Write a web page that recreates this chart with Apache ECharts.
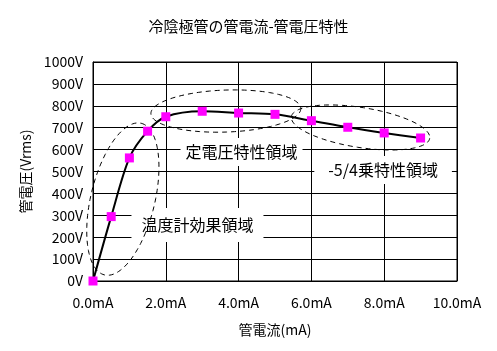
<!DOCTYPE html>
<html>
<head>
<meta charset="utf-8">
<script src="https://cdn.jsdelivr.net/npm/echarts@6/dist/echarts.min.js"></script>
<style>html,body{margin:0;padding:0;background:#fff;}#c{width:497px;height:351px;}</style>
</head>
<body>
<div id="c"></div>
<script>
var currents = [0, 0.5, 1.0, 1.5, 2.0, 3.0, 4.0, 5.0, 6.0, 7.0, 8.0, 9.0];
var voltages = [0, 294, 562, 684, 750, 775, 767, 761, 732, 702, 676, 653];
var xTicks = [0, 2, 4, 6, 8, 10];
var yTicks = [0, 100, 200, 300, 400, 500, 600, 700, 800, 900, 1000];
var titleText = '冷陰極管の管電流-管電圧特性';
var xName = '管電流(mA)';
var yName = '管電圧(Vrms)';
var regionLabels = ['温度計効果領域', '定電圧特性領域', '-5/4乗特性領域'];

var FONT = '"Noto Sans CJK JP", "Noto Sans", sans-serif';
var chart = echarts.init(document.getElementById('c'));
var pts = currents.map(function (c, i) { return [c, voltages[i]]; });

chart.setOption({
  animation: false,
  backgroundColor: '#fff',
  textStyle: { fontFamily: FONT, color: '#000' },
  title: {
    text: titleText, left: 'center', top: 14,
    textStyle: { fontFamily: FONT, fontWeight: 'normal', fontSize: 15, color: '#000' }
  },
  grid: { left: 93, right: 40, top: 62, bottom: 70, show: true, borderColor: '#000', borderWidth: 1 },
  xAxis: {
    type: 'value', min: xTicks[0], max: xTicks[xTicks.length - 1], interval: xTicks[1] - xTicks[0],
    axisLine: { lineStyle: { color: '#000', width: 1 } },
    axisTick: { show: false },
    splitLine: { show: true, lineStyle: { color: '#000', width: 1 } },
    axisLabel: { color: '#000', fontSize: 14, fontFamily: FONT, margin: 15,
      formatter: function (v) { return v.toFixed(1) + 'mA'; } },
    name: xName, nameLocation: 'middle', nameGap: 42,
    nameTextStyle: { color: '#000', fontSize: 14, fontFamily: FONT }
  },
  yAxis: {
    type: 'value', min: yTicks[0], max: yTicks[yTicks.length - 1], interval: yTicks[1] - yTicks[0],
    axisLine: { show: true, lineStyle: { color: '#000', width: 1 } },
    axisTick: { show: false },
    splitLine: { show: true, lineStyle: { color: '#000', width: 1 } },
    axisLabel: { color: '#000', fontSize: 14, fontFamily: FONT, margin: 10,
      formatter: function (v) { return v + 'V'; } },
    name: yName, nameLocation: 'middle', nameGap: 59, nameRotate: 90,
    nameTextStyle: { color: '#000', fontSize: 14, fontFamily: FONT }
  },
  series: [{
    type: 'line', data: pts, smooth: 0.3, z: 5,
    lineStyle: { color: '#000', width: 2 },
    symbol: 'rect', symbolSize: 9,
    itemStyle: { color: '#ff00ff', borderWidth: 0 }
  }]
});

// annotation ellipses: centre in data units, radii in px, rotation in degrees
var ellipses = [
  { c: [0.82, 374], a: 78, b: 32, rot: -76.4 },
  { c: [3.65, 776], a: 75, b: 21, rot: -2 },
  { c: [7.35, 701], a: 70, b: 20, rot: 8.9 }
];
var labels = [
  { t: regionLabels[0], p: [2.87, 256], pad: [9, 10] },
  { t: regionLabels[1], p: [4.08, 589], pad: [6, 5] },
  { t: regionLabels[2], p: [7.97, 507], pad: [6, 14] }
];

var elements = [];
ellipses.forEach(function (e) {
  var c = chart.convertToPixel({ gridIndex: 0 }, e.c);
  var r = e.rot * Math.PI / 180, poly = [];
  for (var k = 0; k < 120; k++) {
    var t = k / 120 * Math.PI * 2;
    var x = e.a * Math.cos(t), y = e.b * Math.sin(t);
    poly.push([c[0] + x * Math.cos(r) - y * Math.sin(r), c[1] + x * Math.sin(r) + y * Math.cos(r)]);
  }
  elements.push({ type: 'polygon', z: 3, silent: true, shape: { points: poly },
    style: { fill: 'none', stroke: '#000', lineWidth: 1, lineDash: [5, 4] } });
});
labels.forEach(function (l) {
  var p = chart.convertToPixel({ gridIndex: 0 }, l.p);
  elements.push({ type: 'text', z: 2, silent: true, x: p[0], y: p[1],
    style: { text: l.t, fontSize: 16, fontFamily: FONT, fill: '#000', align: 'center', verticalAlign: 'middle',
      backgroundColor: '#fff', padding: l.pad } });
});
chart.setOption({ graphic: elements });
</script>
</body>
</html>
